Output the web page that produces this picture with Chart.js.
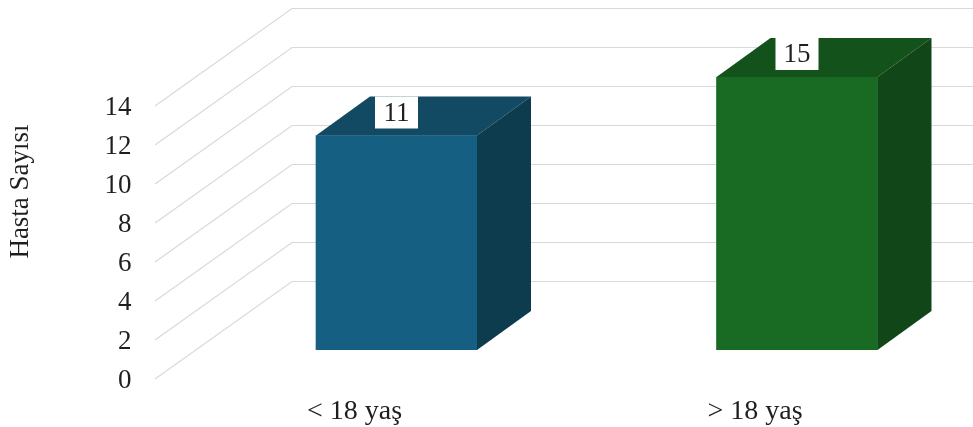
<!DOCTYPE html>
<html lang="tr">
<head>
    <meta charset="UTF-8">
    <title>Hasta Sayısı</title>
    <style>
        html, body { margin: 0; padding: 0; background: #fff; overflow: hidden; }
        canvas { display: block; }
    </style>
</head>
<body>
    <canvas id="chart" width="973" height="427"></canvas>

    <script src="https://cdn.jsdelivr.net/npm/chart.js"></script>
    <script>
        const categories = ['< 18 yaş', '> 18 yaş'];
        const patients = [11, 15];
        const axisTitle = 'Hasta Sayısı';

        const frontColors = ['#156082', '#196b24'];
        const topColors = ['#124a64', '#14521c'];
        const sideColors = ['#0d3c4f', '#114619'];

        const serif = '"Liberation Serif", serif';
        const textColor = '#1f1f1f';

        // depth of a bar, and where the floor edge and back wall sit relative to the bar plane
        const barDepth = { x: 54, y: -39 };
        const wall = { frontX: 155, frontDy: 29, backX: 292, backDy: -68.5 };

        function polygon(ctx, points, fill) {
            ctx.beginPath();
            points.forEach(([x, y], i) => i ? ctx.lineTo(x, y) : ctx.moveTo(x, y));
            ctx.closePath();
            ctx.fillStyle = fill;
            ctx.fill();
        }

        const wallGrid = {
            id: 'wallGrid',
            beforeDatasetsDraw(chart) {
                const { ctx, scales: { y } } = chart;
                ctx.save();
                ctx.strokeStyle = '#d9d9d9';
                ctx.lineWidth = 1.2;
                y.ticks.forEach((tick) => {
                    const py = y.getPixelForValue(tick.value);
                    ctx.beginPath();
                    ctx.moveTo(wall.frontX, py + wall.frontDy);
                    ctx.lineTo(wall.backX, py + wall.backDy);
                    ctx.lineTo(chart.width, py + wall.backDy);
                    ctx.stroke();
                });
                ctx.restore();
            }
        };

        // top and side faces, then the value boxes sitting on the top face
        const barFaces = {
            id: 'barFaces',
            afterDatasetsDraw(chart) {
                const { ctx, chartArea } = chart;
                const bars = chart.getDatasetMeta(0).data;
                ctx.save();
                bars.forEach((bar, i) => {
                    const left = bar.x - bar.width / 2;
                    const right = bar.x + bar.width / 2;
                    const top = Math.max(bar.y, chartArea.top);
                    const dx = barDepth.x;
                    const dy = barDepth.y;
                    polygon(ctx, [[left, top], [right, top], [right + dx, top + dy], [left + dx, top + dy]], topColors[i]);
                    polygon(ctx, [[right, top], [right + dx, top + dy], [right + dx, bar.base + dy], [right, bar.base]], sideColors[i]);

                    const boxTop = top + dy;
                    ctx.fillStyle = '#fff';
                    ctx.fillRect(bar.x - 21.5, boxTop, 43, 32);
                    ctx.fillStyle = textColor;
                    ctx.font = '27px ' + serif;
                    ctx.textAlign = 'center';
                    ctx.textBaseline = 'middle';
                    ctx.fillText(String(patients[i]), bar.x, boxTop + 17);
                });
                ctx.restore();
            },
            afterDraw(chart) {
                const { ctx } = chart;
                ctx.save();
                ctx.translate(21, 191.5);
                ctx.rotate(-Math.PI / 2);
                ctx.fillStyle = textColor;
                ctx.font = '27px ' + serif;
                ctx.textAlign = 'center';
                ctx.textBaseline = 'middle';
                ctx.fillText(axisTitle, 0, 0);
                ctx.restore();
            }
        };

        new Chart(document.getElementById('chart').getContext('2d'), {
            type: 'bar',
            data: {
                labels: categories,
                datasets: [{
                    data: patients,
                    backgroundColor: frontColors,
                    barThickness: 161,
                    clip: { left: 200, right: 200, top: 0, bottom: 0 }
                }]
            },
            plugins: [wallGrid, barFaces],
            options: {
                responsive: false,
                animation: false,
                layout: { padding: { left: 0, right: 176, top: 77, bottom: 0 } },
                plugins: { legend: { display: false }, tooltip: { enabled: false } },
                scales: {
                    x: {
                        offset: false,
                        grid: { display: false, drawTicks: false },
                        border: { display: false },
                        afterFit(scale) { scale.height = 77; },
                        ticks: {
                            autoSkip: false,
                            maxRotation: 0,
                            padding: 45,
                            labelOffset: -42,
                            color: textColor,
                            font: { family: serif, size: 28 }
                        }
                    },
                    y: {
                        min: 0,
                        max: 14,
                        grid: { display: false, drawTicks: false },
                        border: { display: false },
                        // the labels sit far left of the bars; tick padding would otherwise squeeze the plot height
                        afterFit(scale) {
                            scale.width = 396.5;
                            scale.paddingTop = 0;
                            scale.paddingBottom = 0;
                        },
                        ticks: {
                            stepSize: 2,
                            padding: 265,
                            labelOffset: 31,
                            color: textColor,
                            font: { family: serif, size: 27 }
                        }
                    }
                }
            }
        });
    </script>
</body>
</html>
